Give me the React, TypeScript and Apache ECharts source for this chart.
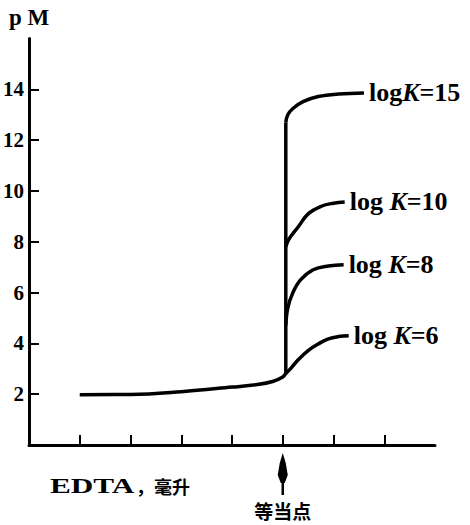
import React, { useEffect, useRef } from "react";
import * as echarts from "echarts";

// Titration curves: pM vs EDTA volume
const baseX = [1, 2, 3, 4, 4.5, 4.8, 5.0, 5.06];
const baseY = [1.98, 1.99, 2.1, 2.28, 2.38, 2.5, 2.68, 2.82];

const jumpX = [5.06, 5.06];
const jumpY = [2.82, 12.7];

const k15X = [5.06, 5.1, 5.2, 5.4, 5.7, 6.1, 6.6];
const k15Y = [12.7, 13.0, 13.25, 13.52, 13.72, 13.82, 13.86];

const k10X = [5.06, 5.12, 5.31, 5.5, 5.76, 6.0, 6.22];
const k10Y = [7.8, 8.1, 8.6, 9.1, 9.4, 9.52, 9.57];

const k8X = [5.06, 5.1, 5.2, 5.35, 5.6, 5.9, 6.2];
const k8Y = [4.7, 5.4, 6.0, 6.5, 6.9, 7.05, 7.1];

const k6X = [5.06, 5.15, 5.3, 5.5, 5.7, 5.9, 6.1, 6.3];
const k6Y = [2.82, 3.0, 3.35, 3.72, 3.98, 4.18, 4.27, 4.3];

const yTicks = [2, 4, 6, 8, 10, 12, 14];
const xTicks = [1, 2, 3, 4, 5, 6, 7];
const labels = ["{a|log}{k|K}{a|=15}", "{a|log }{k|K}{a|=10}", "{a|log }{k|K}{a|=8}", "{a|log }{k|K}{a|=6}"];
const equivX = 5;

const zip = (xs: number[], ys: number[]) => xs.map((x, i) => [x, ys[i]]);

const SERIF = "'Liberation Serif', 'DejaVu Serif', serif";
const CJK = "'Noto Sans CJK SC', sans-serif";

export default function App() {
  const ref = useRef<HTMLDivElement>(null);
  useEffect(() => {
    const chart = echarts.init(ref.current!, null, { renderer: "svg" });
    const lineStyle = { color: "#000", width: 3.5 };
    const endLabel = (text: string) => ({
      show: true,
      formatter: text,
      distance: 5,
      rich: {
        a: { fontFamily: SERIF, fontWeight: "bold", fontSize: 26, color: "#000" },
        k: { fontFamily: SERIF, fontWeight: "bold", fontStyle: "italic", fontSize: 26, color: "#000" },
      },
    });
    const mk = (name: string, data: number[][], smooth: boolean | number, label?: string) => ({
      type: "line",
      name,
      data,
      smooth,
      symbol: "none",
      lineStyle,
      silent: true,
      endLabel: label ? endLabel(label) : { show: false },
    });
    chart.setOption({
      animation: false,
      backgroundColor: "#fff",
      grid: { left: 27, top: 38.6, width: 408, height: 406.4 },
      xAxis: {
        type: "value",
        min: 0,
        max: 8,
        interval: 1,
        axisLine: { lineStyle: { color: "#000", width: 3 } },
        axisTick: { inside: true, length: 10, customValues: xTicks, lineStyle: { color: "#000", width: 2 } },
        axisLabel: { show: false },
        splitLine: { show: false },
      },
      yAxis: {
        type: "value",
        min: 0,
        max: 16,
        interval: 2,
        name: "p M",
        nameLocation: "end",
        nameGap: 10,
        nameTextStyle: { fontFamily: SERIF, fontWeight: "bold", fontSize: 23, color: "#000", align: "center" },
        axisLine: { lineStyle: { color: "#000", width: 3 } },
        axisTick: { inside: true, length: 10, customValues: yTicks, lineStyle: { color: "#000", width: 2 } },
        axisLabel: {
          customValues: yTicks,
          margin: 5,
          fontFamily: SERIF,
          fontWeight: "bold",
          fontSize: 21,
          color: "#000",
        },
        splitLine: { show: false },
      },
      series: [
        mk("base", zip(baseX, baseY), 0.4),
        mk("jump", zip(jumpX, jumpY), false),
        mk("logK15", zip(k15X, k15Y), 0.4, labels[0]),
        mk("logK10", zip(k10X, k10Y), 0.4, labels[1]),
        mk("logK8", zip(k8X, k8Y), 0.4, labels[2]),
        mk("logK6", zip(k6X, k6Y), 0.4, labels[3]),
      ],
    });
    const p = chart.convertToPixel({ gridIndex: 0 }, [equivX, 0]) as number[];
    const ax = p[0];
    const ay = p[1];
    chart.setOption({
      graphic: [
        {
          type: "polygon",
          silent: true,
          shape: {
            points: [
              [ax, ay + 8],
              [ax - 3, ay + 18],
              [ax - 5, ay + 30],
              [ax - 2, ay + 38],
              [ax + 2, ay + 38],
              [ax + 5, ay + 30],
              [ax + 3, ay + 18],
            ],
          },
          style: { fill: "#000" },
        },
        {
          type: "line",
          silent: true,
          shape: { x1: ax, y1: ay + 34, x2: ax, y2: ay + 50 },
          style: { stroke: "#000", lineWidth: 2.5 },
        },
        {
          type: "text",
          x: ax,
          y: ay + 65,
          silent: true,
          style: {
            text: "等当点",
            fontFamily: CJK,
            fontWeight: "bold",
            fontSize: 19,
            fill: "#000",
            align: "center",
            verticalAlign: "middle",
          },
        },
        {
          type: "text",
          x: 50,
          y: 486,
          scaleX: 1.42,
          silent: true,
          style: {
            text: "EDTA",
            fontFamily: SERIF,
            fontWeight: "bold",
            fontSize: 22,
            fill: "#000",
            align: "left",
            verticalAlign: "middle",
          },
        },
        {
          type: "text",
          x: 136,
          y: 486,
          silent: true,
          style: {
            text: "，毫升",
            fontFamily: CJK,
            fontWeight: "bold",
            fontSize: 18,
            fill: "#000",
            align: "left",
            verticalAlign: "middle",
          },
        },
      ],
    });
    return () => chart.dispose();
  }, []);
  return <div ref={ref} style={{ position: "fixed", left: 0, top: 0, width: 470, height: 525 }} />;
}
